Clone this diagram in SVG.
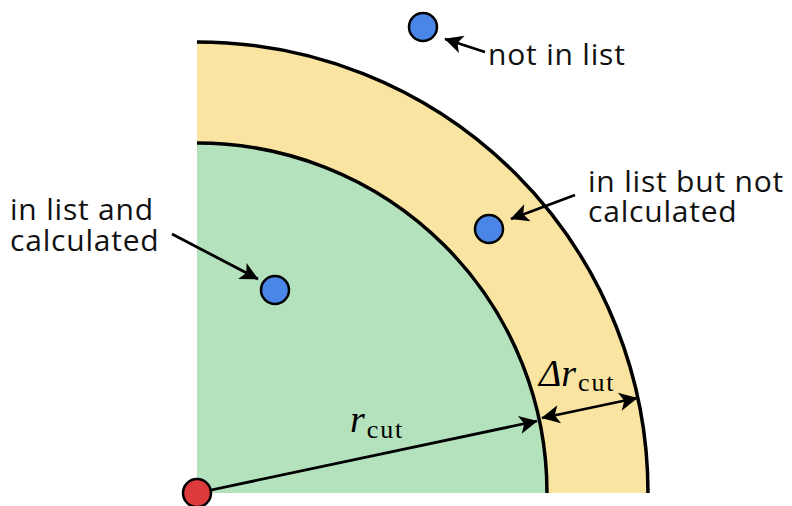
<svg xmlns="http://www.w3.org/2000/svg" width="792" height="506" viewBox="0 0 792 506">
<defs>
<marker id="ah" viewBox="0 0 10 10" refX="9" refY="5" markerWidth="7" markerHeight="7" markerUnits="userSpaceOnUse" orient="auto-start-reverse" style="overflow:visible">
<path d="M0,0 L10,5 L0,10 L2.5,5 Z" fill="#000" transform="scale(2.6) translate(-6.2,-3)"/>
</marker>
<style>
.lbl{font-family:"Open Sans","DejaVu Sans",sans-serif;font-size:30px;letter-spacing:0.8px;fill:#111}
.math{font-family:"Liberation Serif","DejaVu Serif",serif;fill:#000}
.sub{font-size:26px;letter-spacing:1.8px;font-style:normal}
.arc{fill:none;stroke:#000;stroke-width:3.5}
.dot{fill:#4a86e8;stroke:#000;stroke-width:2.5}
.arr{fill:none;stroke:#000;stroke-width:2.8}
</style>
</defs>
<rect width="792" height="506" fill="#fff"/>
<g id="regions">
<path d="M197,42 A451,451 0 0 1 648,493 L547,493 A350,350 0 0 0 197,143 Z" fill="#f9e5a1"/>
<path d="M197,493 L197,143 A350,350 0 0 1 547,493 Z" fill="#b3e2bd"/>
<path class="arc" d="M197,143 A350,350 0 0 1 547,493"/>
<path class="arc" d="M197,42 A451,451 0 0 1 648,493"/>
</g>
<g id="connectors">
<path class="arr" d="M485,52 L445,39" marker-end="url(#ah)"/>
<path class="arr" d="M575,195 L511,219" marker-end="url(#ah)"/>
<path class="arr" d="M172,234 L258,279" marker-end="url(#ah)"/>
<path class="arr" d="M197,493 L537,421" marker-end="url(#ah)"/>
<path class="arr" d="M542,418 L637,398" marker-start="url(#ah)" marker-end="url(#ah)"/>
</g>
<g id="origin"><circle cx="197" cy="493" r="14" fill="#dd3b3b" stroke="#000" stroke-width="2.5"/></g>
<g id="dot-not-in-list"><circle class="dot" cx="423" cy="27" r="14"/></g>
<g id="dot-in-list-not-calc"><circle class="dot" cx="489" cy="229" r="14"/></g>
<g id="dot-in-list-calc"><circle class="dot" cx="275" cy="290" r="14"/></g>
<g id="labels">
<text class="lbl" x="488" y="65">not in list</text>
<text class="lbl" x="588" y="192">in list but not</text>
<text class="lbl" x="588" y="222">calculated</text>
<text class="lbl" x="10" y="220">in list and</text>
<text class="lbl" x="10" y="251">calculated</text>
<text class="math" x="350" y="432" font-size="38"><tspan font-style="italic">r</tspan><tspan class="sub" dx="2" dy="6">cut</tspan></text>
<text class="math" x="539" y="386" font-size="38"><tspan font-style="italic">Δr</tspan><tspan class="sub" dx="2" dy="5">cut</tspan></text>
</g>
</svg>
